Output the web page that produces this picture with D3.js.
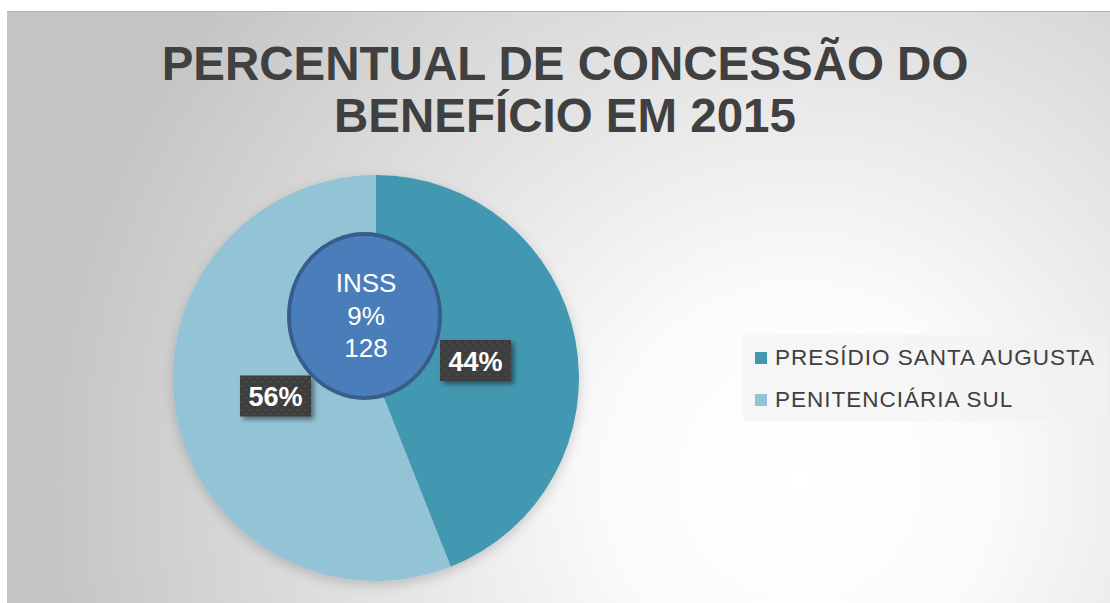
<!DOCTYPE html>
<html>
<head>
<meta charset="utf-8">
<script src="https://cdn.jsdelivr.net/npm/d3@7"></script>
<style>
  body { margin: 0; background: #ffffff; }
  svg text { font-family: "Liberation Sans", Arial, sans-serif; }
</style>
</head>
<body>
<svg id="chart" width="1110" height="603"></svg>
<script>
// chart data
const titleLines = ["PERCENTUAL DE CONCESSÃO DO", "BENEFÍCIO EM 2015"]
const categories = ["PRESÍDIO SANTA AUGUSTA", "PENITENCIÁRIA SUL"]
const shares = [44, 56]
const sliceColors = ["#4398b1", "#93c4d6"]
const calloutLines = ["INSS", "9%", "128"]

const svg = d3.select("#chart")
const W = 1110, H = 603

// background gradient + pattern for label boxes
const defs = svg.append("defs")
const bg = defs.append("radialGradient")
    .attr("id", "bgGrad")
    .attr("gradientUnits", "userSpaceOnUse")
    .attr("cx", 800).attr("cy", 480).attr("r", 760)
    .attr("fx", 800).attr("fy", 480)
bg.append("stop").attr("offset", 0).attr("stop-color", "#ffffff")
bg.append("stop").attr("offset", 0.25).attr("stop-color", "#fbfbfb")
bg.append("stop").attr("offset", 1).attr("stop-color", "#c4c4c4")

const pat = defs.append("pattern")
    .attr("id", "dots")
    .attr("width", 8).attr("height", 8)
    .attr("patternUnits", "userSpaceOnUse")
pat.append("rect").attr("width", 8).attr("height", 8).attr("fill", "#3e3e3e")
pat.append("circle").attr("cx", 2).attr("cy", 2).attr("r", 1.1).attr("fill", "#4e4e4e")
pat.append("circle").attr("cx", 6).attr("cy", 6).attr("r", 1.1).attr("fill", "#4e4e4e")

const shadow = defs.append("filter").attr("id", "shadow")
    .attr("x", "-20%").attr("y", "-20%").attr("width", "150%").attr("height", "160%")
shadow.append("feDropShadow")
    .attr("dx", 3).attr("dy", 3).attr("stdDeviation", 2.5)
    .attr("flood-color", "#000").attr("flood-opacity", 0.45)

const pieShadow = defs.append("filter").attr("id", "pieShadow")
    .attr("x", "-20%").attr("y", "-20%").attr("width", "140%").attr("height", "140%")
pieShadow.append("feDropShadow")
    .attr("dx", 0).attr("dy", 4).attr("stdDeviation", 6)
    .attr("flood-color", "#000").attr("flood-opacity", 0.18)

svg.append("rect")
    .attr("x", 7).attr("y", 11)
    .attr("width", W - 7).attr("height", H - 11)
    .attr("fill", "url(#bgGrad)")
svg.append("line")
    .attr("x1", 7).attr("x2", W).attr("y1", 11.5).attr("y2", 11.5)
    .attr("stroke", "#b4b4b4")

// title
svg.append("g").selectAll("text")
    .data(titleLines)
    .join("text")
    .attr("x", 565)
    .attr("y", (d, i) => 80 + i * 52)
    .attr("text-anchor", "middle")
    .attr("font-size", 47.5)
    .attr("font-weight", "bold")
    .attr("fill", "#404040")
    .text(d => d)

// pie
const cx = 376, cy = 378, radius = 203
const data = categories.map((c, i) => ({name: c, value: shares[i], color: sliceColors[i]}))
const pie = d3.pie().value(d => d.value).sort(null)
const arc = d3.arc().innerRadius(0).outerRadius(radius)
const arcs = pie(data)

const pieG = svg.append("g").attr("transform", "translate(" + cx + "," + cy + ")")
pieG.append("g").attr("filter", "url(#pieShadow)")
    .selectAll("path")
    .data(arcs)
    .join("path")
    .attr("d", arc)
    .attr("fill", d => d.data.color)

// data labels
const labelPos = [[99.5, -17.5], [-100.5, 18]]
const labels = pieG.append("g").selectAll("g")
    .data(arcs)
    .join("g")
    .attr("transform", (d, i) => "translate(" + labelPos[i][0] + "," + labelPos[i][1] + ")")
labels.append("rect")
    .attr("x", -35.5).attr("y", -20.5)
    .attr("width", 71).attr("height", 41)
    .attr("fill", "url(#dots)")
    .attr("filter", "url(#shadow)")
labels.append("text")
    .attr("text-anchor", "middle")
    .attr("y", 10)
    .attr("font-size", 27)
    .attr("font-weight", "bold")
    .attr("fill", "#ffffff")
    .text(d => d.data.value + "%")

// INSS callout ellipse
const callout = svg.append("g").attr("transform", "translate(364.5,316)")
callout.append("ellipse")
    .attr("rx", 75.5).attr("ry", 82)
    .attr("fill", "#4a7ebb")
    .attr("stroke", "#385d8a")
    .attr("stroke-width", 4)
callout.selectAll("text")
    .data(calloutLines)
    .join("text")
    .attr("text-anchor", "middle")
    .attr("x", 1.5)
    .attr("y", (d, i) => -24 + i * 32.5)
    .attr("font-size", 26)
    .attr("fill", "#ffffff")
    .text(d => d)

// legend
const legend = svg.append("g")
legend.append("rect")
    .attr("x", 743).attr("y", 335)
    .attr("width", 364).attr("height", 86)
    .attr("fill", "#f2f2f2").attr("opacity", 0.6)
const items = legend.selectAll("g.item")
    .data(data)
    .join("g")
    .attr("class", "item")
    .attr("transform", (d, i) => "translate(755," + (352 + i * 42) + ")")
items.append("rect")
    .attr("x", 0).attr("y", 0)
    .attr("width", 12).attr("height", 12)
    .attr("fill", d => d.color)
items.append("text")
    .attr("x", 20).attr("y", 13)
    .attr("font-size", 22.5)
    .attr("letter-spacing", 1)
    .attr("fill", "#404040")
    .text(d => d.name)
</script>
</body>
</html>
